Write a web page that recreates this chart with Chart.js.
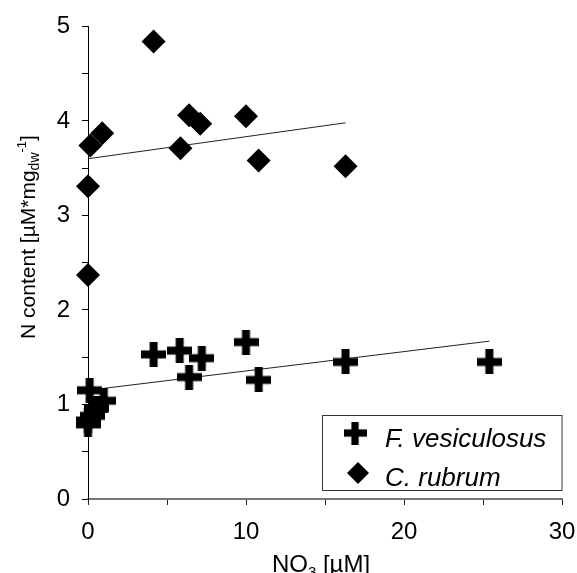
<!DOCTYPE html>
<html>
<head>
<meta charset="utf-8">
<script src="https://cdn.jsdelivr.net/npm/chart.js@4.4.0/dist/chart.umd.min.js"></script>
<style>
  html, body { margin: 0; padding: 0; background: #fff; }
</style>
</head>
<body>
<canvas id="grafico-n" width="577" height="573"></canvas>
<script>
// F. vesiculosus
const fvX = [0.1, 1.0, 0.55, 0.3, 0, 0, 4.15, 5.8, 7.2, 6.4, 10.0, 10.8, 16.3, 25.4];
const fvY = [1.15, 1.04, 0.96, 0.88, 0.83, 0.79, 1.53, 1.57, 1.49, 1.29, 1.66, 1.26, 1.45, 1.45];
// C. rubrum
const crX = [4.15, 6.4, 7.1, 10.0, 5.85, 10.8, 0.9, 0.15, 0, 0, 16.3];
const crY = [4.84, 4.06, 3.97, 4.05, 3.71, 3.58, 3.87, 3.74, 3.31, 2.37, 3.52];
// trend lines (end points)
const fvFitX = [0, 25.4];
const fvFitY = [1.15, 1.67];
const crFitX = [0, 16.3];
const crFitY = [3.60, 3.98];

const seriesNames = ['F. vesiculosus', 'C. rubrum'];
const xLabelTicks = [0, 10, 20, 30];
const yLabelTicks = [0, 1, 2, 3, 4, 5];

const FONT = '"Liberation Sans", Arial, sans-serif';

function toPoints(xs, ys) {
    return xs.map(function(x, i) { return { x: x, y: ys[i] }; });
}

// thick cross marker
function crossMarker(size, thick) {
    var c = document.createElement('canvas');
    c.width = size;
    c.height = size;
    var g = c.getContext('2d');
    g.fillStyle = '#000';
    var o = (size - thick) / 2;
    g.fillRect(0, o, size, thick);
    g.fillRect(o, 0, thick, size);
    return c;
}
var cross = crossMarker(25, 8);

function drawParts(ctx, parts) {
    var x = 0;
    parts.forEach(function(p) {
        ctx.font = p.size + 'px ' + FONT;
        ctx.fillText(p.t, x, p.dy || 0);
        x += ctx.measureText(p.t).width;
    });
}
function partsWidth(ctx, parts) {
    var w = 0;
    parts.forEach(function(p) {
        ctx.font = p.size + 'px ' + FONT;
        w += ctx.measureText(p.t).width;
    });
    return w;
}

// axis titles + legend box
const extras = {
    id: 'extras',
    afterDraw: function(chart) {
        var ctx = chart.ctx;
        var area = chart.chartArea;
        ctx.save();
        ctx.fillStyle = '#000';
        ctx.textBaseline = 'alphabetic';
        ctx.textAlign = 'left';

        // x title
        var xt = [
            { t: 'NO', size: 24 },
            { t: '3', size: 15, dy: 5 },
            { t: ' [µM]', size: 24 }
        ];
        var wx = partsWidth(ctx, xt);
        ctx.save();
        ctx.translate(321 - wx / 2, 572);
        drawParts(ctx, xt);
        ctx.restore();

        // y title
        var yt = [
            { t: 'N content [µM*mg', size: 21 },
            { t: 'dw', size: 14, dy: 4 },
            { t: '-1', size: 13, dy: -9 },
            { t: ']', size: 21 }
        ];
        var wy = partsWidth(ctx, yt);
        ctx.save();
        ctx.translate(35, 237 + wy / 2);
        ctx.rotate(-Math.PI / 2);
        drawParts(ctx, yt);
        ctx.restore();

        // legend
        var bx = 322.5, by = 415.5, bw = area.right - 322.5, bh = 75;
        ctx.fillStyle = '#fff';
        ctx.fillRect(bx, by, bw, bh);
        ctx.strokeStyle = '#333';
        ctx.lineWidth = 1;
        ctx.strokeRect(bx, by, bw, bh);
        ctx.fillStyle = '#000';
        ctx.drawImage(cross, 355 - 11.5, 433 - 11.5, 23, 23);
        ctx.beginPath();
        ctx.moveTo(358, 462);
        ctx.lineTo(369, 473);
        ctx.lineTo(358, 484);
        ctx.lineTo(347, 473);
        ctx.closePath();
        ctx.fill();
        ctx.font = 'italic 26px ' + FONT;
        ctx.fillText(seriesNames[0], 385, 447);
        ctx.fillText(seriesNames[1], 385, 486);
        ctx.restore();
    }
};

function graficoNitrogeno() {
    var ctx = document.getElementById('grafico-n');
    const data = {
        datasets: [{
            label: seriesNames[0],
            data: toPoints(fvX, fvY),
            pointStyle: cross,
            pointRadius: 12,
            backgroundColor: '#000',
            borderColor: '#000',
            clip: false
        }, {
            label: seriesNames[1],
            data: toPoints(crX, crY),
            pointStyle: 'rectRot',
            pointRadius: 12,
            borderWidth: 0,
            backgroundColor: '#000',
            borderColor: '#000',
            clip: false
        }, {
            type: 'line',
            data: toPoints(fvFitX, fvFitY),
            borderColor: '#222',
            borderWidth: 1,
            pointRadius: 0,
            fill: false
        }, {
            type: 'line',
            data: toPoints(crFitX, crFitY),
            borderColor: '#222',
            borderWidth: 1,
            pointRadius: 0,
            fill: false
        }]
    };

    const config = {
        type: 'scatter',
        data: data,
        options: {
            responsive: false,
            animation: false,
            devicePixelRatio: 1,
            layout: { padding: { top: 25, right: 0, left: 0, bottom: 0 } },
            plugins: {
                legend: { display: false },
                tooltip: { enabled: false },
                title: { display: false }
            },
            scales: {
                x: {
                    type: 'linear',
                    min: 0,
                    max: 30,
                    ticks: {
                        stepSize: 5,
                        autoSkip: false,
                        maxRotation: 0,
                        padding: 13,
                        color: '#000',
                        font: { family: FONT, size: 24 },
                        callback: function(v) { return xLabelTicks.indexOf(v) >= 0 ? String(v) : ''; }
                    },
                    grid: { drawOnChartArea: false, drawTicks: true, tickLength: 6, color: '#222' },
                    border: { color: '#777', width: 2 },
                    afterFit: function(s) { s.height = 74; s.paddingRight = 15; }
                },
                y: {
                    min: 0,
                    max: 5,
                    ticks: {
                        stepSize: 0.5,
                        autoSkip: false,
                        padding: 12,
                        color: '#000',
                        font: { family: FONT, size: 24 },
                        callback: function(v) { return yLabelTicks.indexOf(v) >= 0 ? String(v) : ''; }
                    },
                    grid: { drawOnChartArea: false, drawTicks: true, tickLength: 6, color: '#000' },
                    border: { color: '#000', width: 1 },
                    afterFit: function(s) { s.width = 88; }
                }
            }
        },
        plugins: [extras]
    };

    var myChart = new Chart(ctx, config);
}

graficoNitrogeno();
</script>
</body>
</html>
